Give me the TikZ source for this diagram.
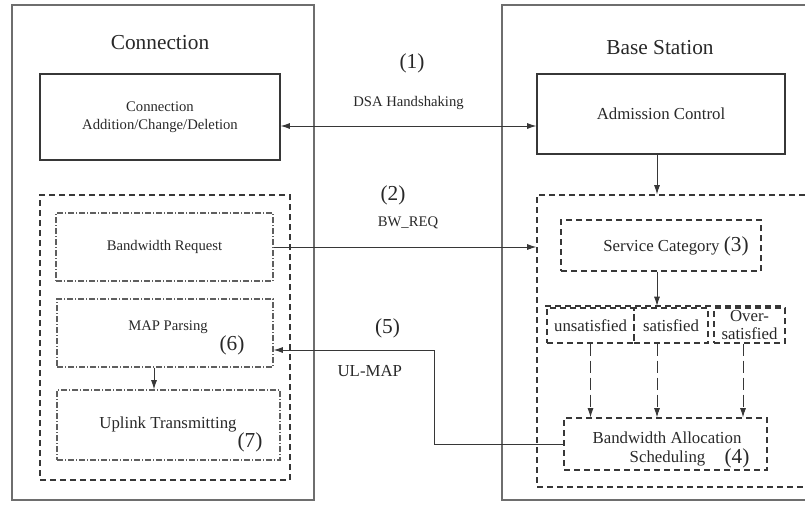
\documentclass[tikz,border=0pt]{standalone}
\usepackage{fontspec}
\setmainfont{Liberation Serif}
\usetikzlibrary{arrows.meta, calc, positioning}
\definecolor{linegray}{RGB}{55, 55, 55}
\definecolor{framegray}{RGB}{110, 110, 110}
\definecolor{dotgray}{RGB}{95, 95, 95}
\definecolor{textgray}{RGB}{40, 40, 40}
\newcommand{\smallsz}{\fontsize{11}{13.5}\selectfont}
\newcommand{\midsz}{\fontsize{12.6}{15}\selectfont}
\newcommand{\bigsz}{\fontsize{16}{19}\selectfont}

\begin{document}
\begin{tikzpicture}[x=0.75pt, y=-0.75pt,
	outerbox/.style={draw=framegray, line width=1.1pt},
	solidbox/.style={draw=linegray, line width=0.8pt, align=center,
		text=textgray, font=\smallsz},
	groupbox/.style={draw=linegray, line width=0.8pt, dash pattern=on 4.5pt off 3pt},
	dotbox/.style={draw=dotgray, line width=0.8pt,
		dash pattern=on 4.5pt off 1.5pt on 0.75pt off 1.5pt,
		text=textgray, font=\smallsz},
	dashbox/.style={groupbox, text=textgray, font=\midsz, align=center},
	lbl/.style={text=textgray},
	arr/.style={-{Latex[length=7pt, width=4.5pt]}, linegray, line width=0.7pt},
	dblarr/.style={arr, {Latex[length=7pt, width=4.5pt]}-{Latex[length=7pt, width=4.5pt]}},
	dasharr/.style={arr, dash pattern=on 9pt off 3.75pt}
	]
	\useasboundingbox (0,0) rectangle (805,504);
	
	% the two sides
	\node[outerbox, minimum width=226.5pt, minimum height=371.25pt] (conn) at (163,252.5) {};
	\node[outerbox, minimum width=234.75pt, minimum height=371.25pt] (bs) at (658.5,252.5) {};
	\node[lbl, font=\bigsz] (conntitle) at (160,43) {Connection};
	\node[lbl, font=\bigsz] (bstitle) at (660,48) {Base Station};
	
	\node[solidbox, minimum width=180pt, minimum height=64.5pt] (cad) at (160,117)
	{Connection\\Addition/Change/Deletion};
	\node[solidbox, font=\midsz, minimum width=186pt, minimum height=60pt] (adm) at (661,114)
	{Admission Control};
	
	% connection side
	\node[groupbox, minimum width=187.5pt, minimum height=213.75pt] (lgrp) at (165,337.5) {};
	\node[dotbox, minimum width=162.75pt, minimum height=51pt] (bwr) at (164.5,247) {Bandwidth Request};
	\node[dotbox, minimum width=162pt, minimum height=51pt] (map) at (165,333) {};
	\node[lbl, font=\smallsz] (maptxt) at (168,327) {MAP Parsing};
	\node[lbl, font=\bigsz] (n6) at (232,345) {(6)};
	\node[dotbox, minimum width=167.25pt, minimum height=52.5pt] (ult) at (168.5,425) {};
	\node[lbl, font=\midsz] (ulttxt) at (168,424) {Uplink Transmitting};
	\node[lbl, font=\bigsz] (n7) at (250,442) {(7)};
	
	% base station side
	\node[groupbox, minimum width=208.5pt, minimum height=219pt] (rgrp) at (676,341) {};
	\node[dashbox, minimum width=150pt, minimum height=38.25pt] (svc) at (661,245.5) {};
	\node[lbl] (svctxt) at (676,246) {\midsz Service Category {\bigsz(3)}};
	\coordinate (catl) at (545,306);
	\coordinate (catr) at (785,306);
	\draw[groupbox] (catl) -- (catr);
	\node[dashbox, minimum width=65.25pt, minimum height=26.25pt] (uns) at (590.5,325.5) {unsatisfied};
	\node[dashbox, minimum width=55.5pt, minimum height=26.25pt] (sat) at (671,325.5) {satisfied};
	\node[dashbox, font=\fontsize{12.6}{13.5}\selectfont, inner ysep=0.5pt,
	minimum width=53.25pt, minimum height=26.25pt] (ovs) at (749.5,325.5) {Over-\\satisfied};
	\node[dashbox, minimum width=152.25pt, minimum height=39pt] (ba) at (665.5,444) {};
	\node[lbl, font=\midsz] (batxt) at (667,438) {Bandwidth Allocation};
	\node[lbl, font=\midsz] (schtxt) at (667.5,458) {Scheduling};
	\node[lbl, font=\bigsz] (n4) at (737,458) {(4)};
	
	% messages between the sides
	\coordinate (dsa) at ($(cad.east)+(0,9)$);
	\draw[dblarr] (dsa) -- (dsa -| adm.west)
	node[midway, lbl, font=\smallsz, yshift=17.25pt] (dsalbl) {DSA Handshaking}
	node[midway, lbl, font=\bigsz, yshift=47.25pt, xshift=2.6pt] (n1) {(1)};
	\draw[arr] (bwr.east) -- (bwr.east -| rgrp.west)
	node[midway, lbl, font=\smallsz, yshift=18pt, xshift=2.25pt] (bwlbl) {BW\_REQ}
	node[midway, lbl, font=\bigsz, yshift=39pt, xshift=-9pt] (n2) {(2)};
	\coordinate (ulbend) at (434,350);
	\draw[arr] (ba.west) -| (ulbend) -- (ulbend -| map.east)
	node[pos=0.29, lbl, font=\bigsz, yshift=16.5pt] (n5) {(5)}
	node[pos=0.4, lbl, font=\midsz, yshift=-15.75pt] (ullbl) {UL-MAP};
	
	% inside each side
	\coordinate (spine) at ($(adm.south)+(-4,0)$);
	\draw[arr] (spine) -- (spine |- rgrp.north);
	\draw[arr] (spine |- svc.south) -- (spine |- catl);
	\draw[dasharr] (uns.south) -- (uns.south |- ba.north);
	\draw[dasharr] (spine |- sat.south) -- (spine |- ba.north);
	\coordinate (ovsout) at ($(ovs.south)+(-6.5,0)$);
	\draw[dasharr] (ovsout) -- (ovsout |- ba.north);
	\coordinate (mapout) at ($(map.south)+(-11,0)$);
	\draw[arr] (mapout) -- (mapout |- ult.north);
\end{tikzpicture}
\end{document}
